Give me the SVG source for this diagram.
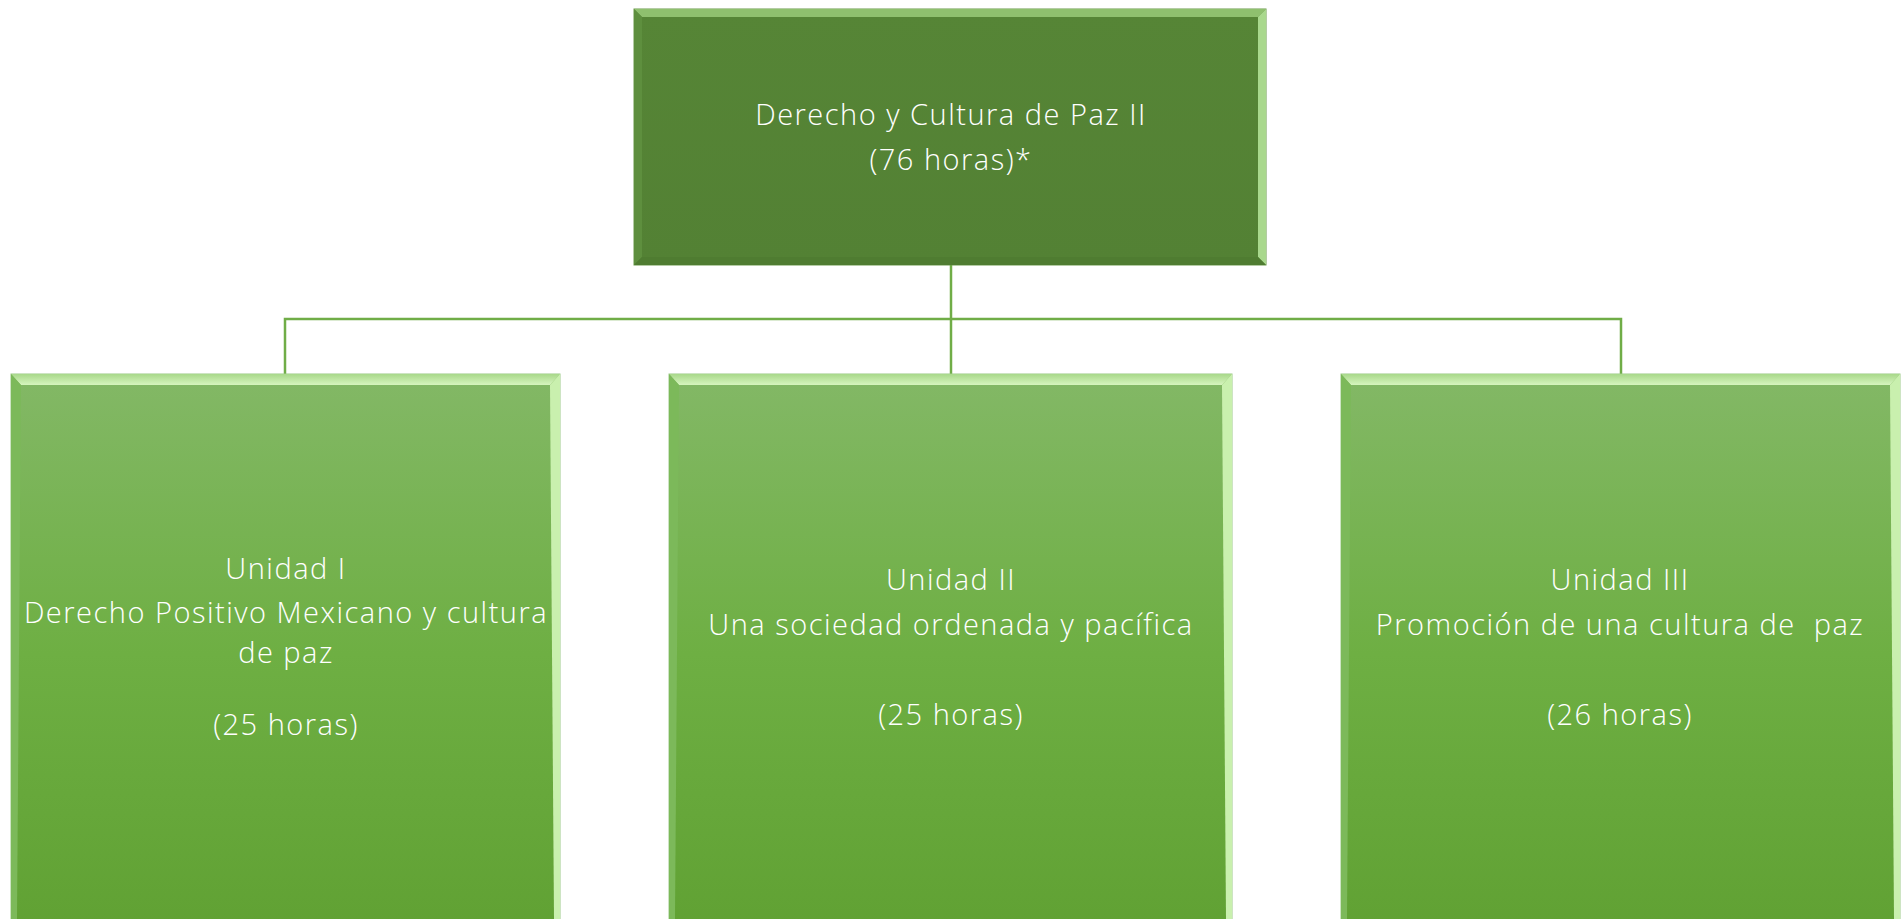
<svg xmlns="http://www.w3.org/2000/svg" width="1904" height="919" viewBox="0 0 1904 919">
<style>
.t{font-family:"Open Sans","Liberation Sans",sans-serif;font-size:29px;fill:#ffffff;text-anchor:middle;font-weight:300;letter-spacing:1.5px}
.con{stroke:#70AD47;stroke-width:2.5;fill:none}
</style>
<defs>
<linearGradient id="gTop" x1="0" y1="0" x2="0" y2="1"><stop offset="0" stop-color="#568536"/><stop offset="1" stop-color="#538134"/></linearGradient>
<linearGradient id="gBot" x1="0" y1="0" x2="0" y2="1"><stop offset="0" stop-color="#83B866"/><stop offset="0.5" stop-color="#6EAF43"/><stop offset="1" stop-color="#60A133"/></linearGradient>
<linearGradient id="bevTop" x1="0" y1="0" x2="0" y2="1"><stop offset="0" stop-color="#A8D88A"/><stop offset="1" stop-color="#D6F5BE"/></linearGradient>
</defs>
<g id="connectors">
<line class="con" x1="951" y1="265" x2="951" y2="374"/>
<polyline class="con" points="285,374 285,319 1621,319 1621,374"/>
</g>
<g id="node-top">
<rect x="634" y="9" width="632" height="256" fill="url(#gTop)" stroke="#6A9A4A" stroke-width="1"/>
<polygon points="634,9 1266,9 1258,17 642,17" fill="#8FC06E"/>
<polygon points="1266,9 1266,265 1258,257 1258,17" fill="#A9D88D"/>
<polygon points="634,9 642,17 642,257 634,265" fill="#5E8F3E"/>
<polygon points="634,265 642,257 1258,257 1266,265" fill="#4F7C31"/>
<text class="t" x="951" y="125">Derecho y Cultura de Paz II</text>
<text class="t" x="951" y="170">(76 horas)*</text>
</g>
<g id="node-u1">
<rect x="11" y="374" width="549" height="560" fill="url(#gBot)" stroke="#9CC987" stroke-width="1"/>
<polygon points="11,374 560,374 550,385 21,385" fill="url(#bevTop)"/>
<polygon points="560,374 560,919 554,919 550,385" fill="#C9F0AE"/>
<polygon points="11,374 21,385 17,919 11,919" fill="#7CB95A"/>
<text class="t" x="286" y="579">Unidad I</text>
<text class="t" x="286" y="623">Derecho Positivo Mexicano y cultura</text>
<text class="t" x="286" y="663">de paz</text>
<text class="t" x="286" y="735">(25 horas)</text>
</g>
<g id="node-u2">
<rect x="669" y="374" width="563" height="560" fill="url(#gBot)" stroke="#9CC987" stroke-width="1"/>
<polygon points="669,374 1232,374 1222,385 679,385" fill="url(#bevTop)"/>
<polygon points="1232,374 1232,919 1226,919 1222,385" fill="#C9F0AE"/>
<polygon points="669,374 679,385 675,919 669,919" fill="#7CB95A"/>
<text class="t" x="951" y="590">Unidad II</text>
<text class="t" x="951" y="635">Una sociedad ordenada y pacífica</text>
<text class="t" x="951" y="725">(25 horas)</text>
</g>
<g id="node-u3">
<rect x="1341" y="374" width="559" height="560" fill="url(#gBot)" stroke="#9CC987" stroke-width="1"/>
<polygon points="1341,374 1900,374 1890,385 1351,385" fill="url(#bevTop)"/>
<polygon points="1900,374 1900,919 1894,919 1890,385" fill="#C9F0AE"/>
<polygon points="1341,374 1351,385 1347,919 1341,919" fill="#7CB95A"/>
<text class="t" x="1620" y="590">Unidad III</text>
<text class="t" x="1620" y="635" xml:space="preserve">Promoción de una cultura de  paz</text>
<text class="t" x="1620" y="725">(26 horas)</text>
</g>
</svg>
